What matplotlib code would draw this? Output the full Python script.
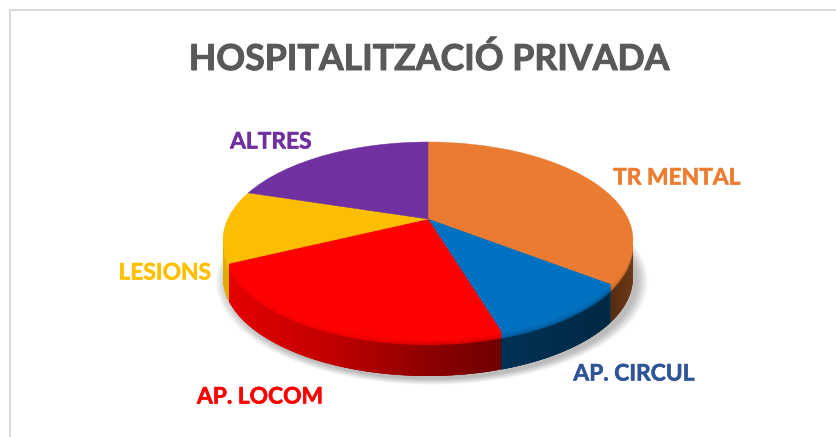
import numpy as np
from matplotlib import pyplot as plt, transforms, patheffects
from matplotlib.collections import PolyCollection
from matplotlib.colors import to_rgb

categories = ["TR MENTAL", "AP. CIRCUL", "AP. LOCOM", "LESIONS", "ALTRES"]
values = [35.4, 9.9, 22.6, 11.9, 20.2]
colors = ["#EA7C31", "#0070C0", "#FF0000", "#FBBE00", "#7030A0"]
label_colors = ["#ED7D31", "#2F5597", "#FF0000", "#FFC000", "#7030A0"]
label_pos = [(677, 178), (634, 374), (260, 397), (165, 273), (271, 142)]

title = "HOSPITALITZACIÓ PRIVADA"

# geometry of the tilted disc, in pixels of the picture
cx, cy = 428, 219
k = 0.214
a = 93.5
b = 200.2
depth = 38


def persp(xy):
    xy = np.asarray(xy, dtype=float)
    w = 1 + k * xy[..., 1]
    return np.stack([cx + b * xy[..., 0] / w, cy - a * xy[..., 1] / w], axis=-1)


class Persp(transforms.Transform):
    input_dims = 2
    output_dims = 2
    has_inverse = False

    def transform_non_affine(self, values):
        return persp(values)


def rim(theta_deg):
    t = np.radians(theta_deg)
    return persp(np.stack([np.cos(t), np.sin(t)], axis=-1))


def shade_at(x):
    return np.interp(x, [225, 330, 430, 500, 610, 633], [0.9, 0.76, 0.55, 0.44, 0.36, 0.46])


fig, ax = plt.subplots(figsize=(8.37, 4.37), dpi=100)
ax.set_position([0, 0, 1, 1])

# soft shadow below the disc
all_angles = np.linspace(0, 360, 240)
edge = rim(all_angles)
mid = edge.mean(axis=0)
for grow in np.linspace(1.055, 1.0, 14):
    pts = mid + (edge - mid) * grow + np.array([4, depth + 3])
    ax.fill(pts[:, 0], pts[:, 1], color="black", alpha=0.018, lw=0, zorder=1)

# side wall, strip by strip; strips overlap so no seams show
polys = []
facecols = []
bands = [(0, 2, 1.0), (1, 4, 0.97), (3, 6, 0.86), (5, 8, 0.72), (7, depth, 0.0)]
stops = 90 - 360 * np.cumsum([0] + values) / sum(values)
for i, col in enumerate(colors):
    rgb = np.array(to_rgb(col))
    th = np.linspace(stops[i], stops[i + 1], 80)
    p = rim(th)
    for j in range(len(th) - 1):
        if (p[j, 1] + p[j + 1, 1]) / 2 < 235:
            continue
        f = float(shade_at((p[j, 0] + p[j + 1, 0]) / 2))
        nxt = p[min(j + 3, len(th) - 1)]
        for d0, d1, blend in bands:
            s = blend + (1 - blend) * f
            polys.append([p[j] + [0, d0], nxt + [0, d0], nxt + [0, d1], p[j] + [0, d1]])
            facecols.append(rgb * s)
side = PolyCollection(polys, facecolors=facecols, edgecolors="none", zorder=2)
ax.add_collection(side)

# top face
wedges, _ = ax.pie(values, colors=colors, startangle=90, counterclock=False, radius=1, frame=True)
for w in wedges:
    w.set_transform(Persp() + ax.transData)
    w.set_edgecolor(w.get_facecolor())
    w.set_linewidth(0.3)
    w.set_zorder(3)

ax.set_aspect("auto")
ax.set_xlim(0, 837)
ax.set_ylim(437, 0)
ax.axis("off")

# chart frame, only top and left are in the crop
ax.plot([10, 10, 837], [437, 10, 10], color="#D9D9D9", lw=1.5, zorder=0, solid_joinstyle="miter")

# a thin stroke brings Lato up to the weight of the original bold
t = ax.text(428.5, 59, title, color="#595959", fontsize=25.7, fontweight="bold", family="Lato",
            ha="center", va="center")
t.set_path_effects([patheffects.withStroke(linewidth=0.7, foreground="#595959")])
for name, col, (x, y) in zip(categories, label_colors, label_pos):
    t = ax.text(x, y, name, color=col, fontsize=16.4, fontweight="bold", family="Lato",
                ha="center", va="center")
    t.set_path_effects([patheffects.withStroke(linewidth=0.4, foreground=col)])

fig.savefig("out.png", dpi=100)
